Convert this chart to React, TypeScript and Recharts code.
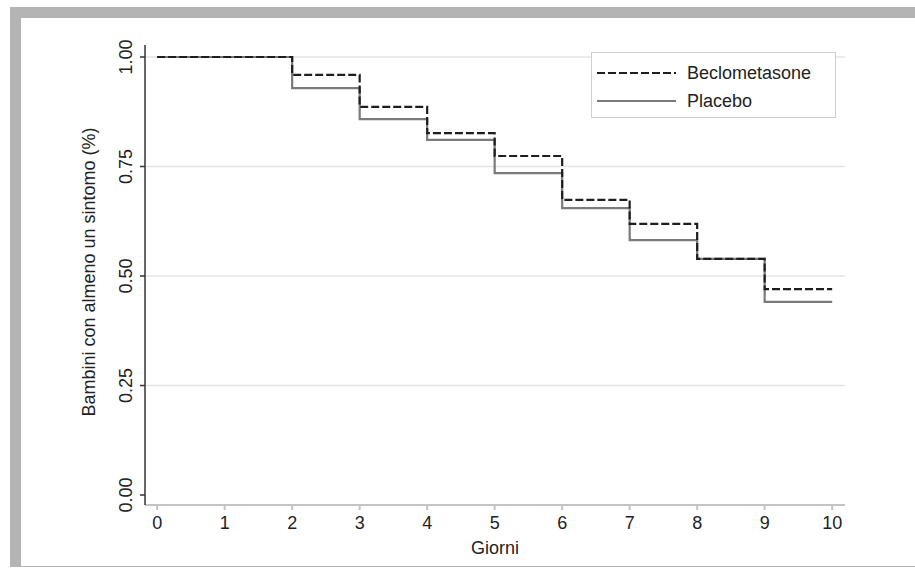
import { LineChart, Line, XAxis, YAxis, CartesianGrid, Label } from "recharts";

const days = [0, 1, 2, 3, 4, 5, 6, 7, 8, 9, 10];
const beclometasone = [1, 1, 0.959, 0.886, 0.826, 0.774, 0.674, 0.619, 0.539, 0.47, 0.47];
const placebo = [1, 1, 0.929, 0.858, 0.811, 0.735, 0.655, 0.582, 0.539, 0.441, 0.441];
const yTicks = [0, 0.25, 0.5, 0.75, 1];
const gridValues = [0.25, 0.5, 0.75, 1];

const data = days.map((d, i) => ({
  day: d,
  beclometasone: beclometasone[i],
  placebo: placebo[i],
}));

const FONT = "'Liberation Sans', Arial, sans-serif";
const TEXT = "#222";
const BECLO_COLOR = "#1e1e1e";
const PLACEBO_COLOR = "#7a7a7a";

const YTick = ({ x, y, payload }: any) => {
  const tx = x - 6;
  return (
    <text
      x={tx}
      y={y}
      transform={`rotate(-90 ${tx} ${y})`}
      textAnchor="middle"
      fontSize={18}
      fontFamily={FONT}
      fill={TEXT}
    >
      {Number(payload.value).toFixed(2)}
    </text>
  );
};

export default function App() {
  return (
    <div style={{ position: "absolute", left: 0, top: 0, width: 915, height: 569, background: "#fff" }}>
      {/* grey frame of the original figure */}
      <div style={{ position: "absolute", left: 10, top: 7, width: 905, height: 560, background: "#b4b4b4" }} />
      <div style={{ position: "absolute", left: 21, top: 18, width: 894, height: 548, background: "#fff" }} />

      <div style={{ position: "absolute", left: 0, top: 0 }}>
        <LineChart width={915} height={569} data={data} margin={{ top: 45, right: 70, bottom: 24, left: 85 }}>
          <CartesianGrid horizontal vertical={false} horizontalValues={gridValues} stroke="#e4e4e4" strokeWidth={1.5} />
          <XAxis
            type="number"
            dataKey="day"
            domain={[-0.18, 10.19]}
            ticks={days}
            allowDataOverflow
            height={40}
            stroke="#c4c4c4"
            strokeWidth={2}
            tickSize={5}
            tickMargin={6}
            tick={{ fill: TEXT, fontSize: 18, fontFamily: FONT }}
          >
            <Label
              content={({ viewBox }: any) => (
                <text
                  x={viewBox.x + viewBox.width / 2}
                  y={viewBox.y + 49}
                  textAnchor="middle"
                  fontSize={18}
                  fontFamily={FONT}
                  fill={TEXT}
                >
                  Giorni
                </text>
              )}
            />
          </XAxis>
          <YAxis
            type="number"
            domain={[-0.0228, 1.0274]}
            ticks={yTicks}
            allowDataOverflow
            width={60}
            stroke="#333"
            strokeWidth={1.5}
            tickSize={5}
            tickMargin={2}
            tick={<YTick />}
          >
            <Label
              content={({ viewBox }: any) => {
                const tx = viewBox.x + 10;
                const ty = viewBox.y + viewBox.height / 2 - 3;
                return (
                  <text
                    x={tx}
                    y={ty}
                    transform={`rotate(-90 ${tx} ${ty})`}
                    textAnchor="middle"
                    fontSize={18}
                    fontFamily={FONT}
                    fill={TEXT}
                  >
                    Bambini con almeno un sintomo (%)
                  </text>
                );
              }}
            />
          </YAxis>
          <Line
            type="stepAfter"
            dataKey="placebo"
            stroke={PLACEBO_COLOR}
            strokeWidth={2.2}
            dot={false}
            isAnimationActive={false}
          />
          <Line
            type="stepAfter"
            dataKey="beclometasone"
            stroke={BECLO_COLOR}
            strokeWidth={2.2}
            strokeDasharray="8 3"
            dot={false}
            isAnimationActive={false}
          />
        </LineChart>
      </div>

      {/* legend box */}
      <div
        style={{
          position: "absolute",
          left: 591,
          top: 52,
          width: 245,
          height: 66,
          border: "1px solid #cfcfcf",
          boxSizing: "border-box",
          background: "#fff",
          fontFamily: FONT,
          fontSize: 18,
          color: TEXT,
        }}
      >
        {[
          { name: "Beclometasone", color: BECLO_COLOR, dash: "8 3", cy: 20 },
          { name: "Placebo", color: PLACEBO_COLOR, dash: undefined, cy: 48 },
        ].map((item) => (
          <div key={item.name} style={{ position: "absolute", left: 0, top: item.cy - 11, height: 22, display: "flex", alignItems: "center" }}>
            <svg width={90} height={22} style={{ display: "block" }}>
              <line x1={5} x2={84} y1={11} y2={11} stroke={item.color} strokeWidth={2.2} strokeDasharray={item.dash} />
            </svg>
            <span style={{ marginLeft: 5, lineHeight: "22px" }}>{item.name}</span>
          </div>
        ))}
      </div>
    </div>
  );
}
